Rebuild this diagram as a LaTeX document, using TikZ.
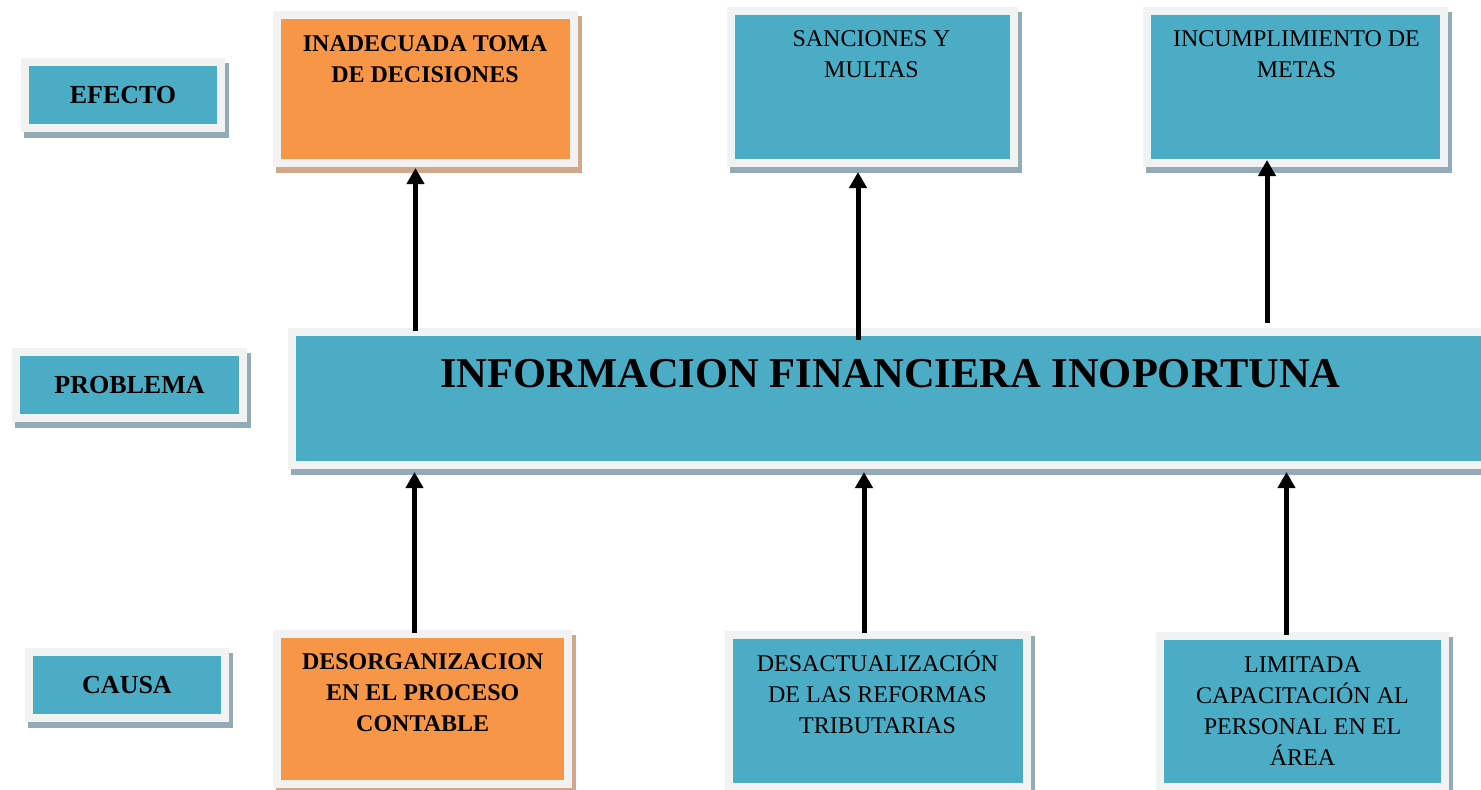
\documentclass[tikz,border=0pt]{standalone}
\usepackage{fontspec}
\setmainfont{Liberation Serif}
\usetikzlibrary{arrows.meta,calc,backgrounds}
\definecolor{aqua}{HTML}{4BACC6}
\definecolor{frame}{HTML}{F2F2F2}
\definecolor{orng}{HTML}{F79646}
\definecolor{shblue}{HTML}{92ABB7}
\definecolor{shorng}{HTML}{D2A88B}
\tikzset{
  box/.style={draw=frame, line width=8pt, fill=aqua, inner sep=0pt, rectangle},
  obox/.style={box, fill=orng},
  lbl/.style={font=\bfseries\fontsize{26}{30}\selectfont},
  txt/.style={align=center, inner sep=0pt, anchor=base, font=\fontsize{24}{31}\selectfont},
  btxt/.style={txt, font=\bfseries\fontsize{24}{31}\selectfont},
  arr/.style={line width=5pt, -{Triangle[width=17pt,length=16pt]}},
}
\begin{document}
\begin{tikzpicture}[x=1pt,y=-1pt]
\useasboundingbox (0,0) rectangle (1481,790);
\clip (0,0) rectangle (1481,790);
% label boxes
\node[box, minimum width=196pt, minimum height=66pt, lbl] (lefecto) at (123,95) {EFECTO};
\node[box, minimum width=227pt, minimum height=66pt, lbl] (lproblema) at (129.5,385) {PROBLEMA};
\node[box, minimum width=196pt, minimum height=66pt, lbl] (lcausa) at (127,685) {CAUSA};
% effects
\node[obox, minimum width=297pt, minimum height=148pt] (e1) at (425.5,89) {};
\node[box, minimum width=283pt, minimum height=152pt] (e2) at (872.5,87) {};
\node[box, minimum width=297pt, minimum height=152pt] (e3) at (1295.5,87) {};
% problem
\node[box, minimum width=1198pt, minimum height=133pt] (p) at (891,398.5) {};
% causes
\node[obox, minimum width=291pt, minimum height=150pt] (c1) at (422.5,709) {};
\node[box, minimum width=298pt, minimum height=152pt] (c2) at (878,711) {};
\node[box, minimum width=285pt, minimum height=151pt] (c3) at (1302.5,711.5) {};
% shadows
\begin{pgfonlayer}{background}
\foreach \n/\c in {lefecto/shblue,lproblema/shblue,lcausa/shblue,e1/shorng,e2/shblue,e3/shblue,p/shblue,c1/shorng,c2/shblue,c3/shblue}{
  \fill[\c] ($(\n.north west)+(3,5)$) rectangle ($(\n.south east)+(4,6)$);
}
\end{pgfonlayer}
% texts (base anchor = baseline of last line)
\node[btxt] (te1) at (425,82) {INADECUADA TOMA\\DE DECISIONES};
\node[txt] (te2) at (871.5,77.5) {SANCIONES Y\\MULTAS};
\node[txt] (te3) at (1296.5,77.5) {INCUMPLIMIENTO DE\\METAS};
\node[inner sep=0pt, anchor=base, font=\bfseries\fontsize{42.5}{50}\selectfont] (tp) at (890.5,387) {INFORMACION FINANCIERA INOPORTUNA};
\node[btxt] (tc1) at (422.7,731) {DESORGANIZACION\\EN EL PROCESO\\CONTABLE};
\node[txt] (tc2) at (877.5,733) {DESACTUALIZACIÓN\\DE LAS REFORMAS\\TRIBUTARIAS};
\node[txt] (tc3) at (1302.5,765) {LIMITADA\\CAPACITACIÓN AL\\PERSONAL EN EL\\ÁREA};
% arrows
\coordinate (x1) at (415.5,0);
\coordinate (x2) at (858,0);
\coordinate (x3) at (1267,0);
\coordinate (x4) at (414.5,0);
\coordinate (x5) at (864,0);
\coordinate (x6) at (1286.5,0);
\draw[arr] ($(p.north -| x1)+(0,3)$) -- ($(e1.south -| x1)+(0,1)$);
\draw[arr] ($(p.north -| x2)+(0,12)$) -- ($(e2.south -| x2)+(0,5)$);
\draw[arr] ($(p.north -| x3)+(0,-5)$) -- ($(e3.south -| x3)+(0,-7)$);
\draw[arr] ($(c1.north -| x4)+(0,3)$) -- ($(p.south -| x4)+(0,3)$);
\draw[arr] ($(c2.north -| x5)+(0,2)$) -- ($(p.south -| x5)+(0,3)$);
\draw[arr] ($(c3.north -| x6)+(0,3)$) -- ($(p.south -| x6)+(0,3)$);
\end{tikzpicture}
\end{document}
